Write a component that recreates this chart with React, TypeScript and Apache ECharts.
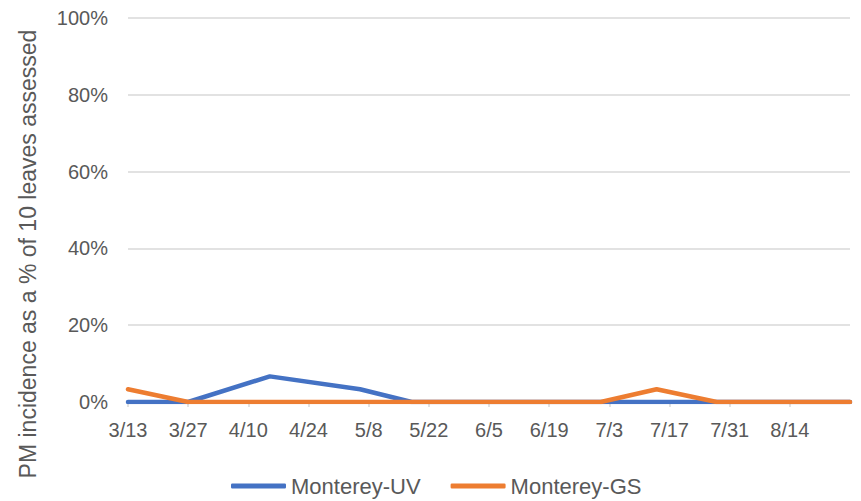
import React, { useEffect, useRef } from "react";
import * as echarts from "echarts";

const YEAR = 2021;
const startDate = "3/13";
const endDate = "8/28";
const sampleDates = ["3/13", "3/27", "4/15", "5/6", "5/18", "6/3", "6/17", "7/1", "7/14", "7/28", "8/12", "8/28"];
const uvValues = [0, 0, 6.67, 3.33, 0, 0, 0, 0, 0, 0, 0, 0];
const gsValues = [3.33, 0, 0, 0, 0, 0, 0, 0, 3.33, 0, 0, 0];
const seriesNames = ["Monterey-UV", "Monterey-GS"];
const seriesColors = ["#4472C4", "#ED7D31"];
const yTicks = [0, 20, 40, 60, 80, 100];
const yAxisTitle = "PM incidence as a % of 10 leaves assessed";

const DAY = 86400000;
function toTime(md: string) {
  const [m, d] = md.split("/").map(Number);
  return Date.UTC(YEAR, m - 1, d);
}
const t0 = toTime(startDate);
const span = Math.round((toTime(endDate) - t0) / DAY);
function offset(md: string) {
  return Math.round((toTime(md) - t0) / DAY);
}
function fmt(v: number) {
  const dt = new Date(t0 + v * DAY);
  return `${dt.getUTCMonth() + 1}/${dt.getUTCDate()}`;
}

const FONT = "'Liberation Sans', Arial, sans-serif";
const TEXT = "#595959";

export default function App() {
  const ref = useRef<HTMLDivElement>(null);
  useEffect(() => {
    if (!ref.current) return;
    const chart = echarts.init(ref.current, undefined, { renderer: "svg" });
    const mk = (vals: number[], i: number) => ({
      name: seriesNames[i],
      type: "line",
      data: sampleDates.map((d, k) => [offset(d), vals[k]]),
      symbol: "none",
      lineStyle: { color: seriesColors[i], width: 4.5, cap: "round", join: "round" },
      itemStyle: { color: seriesColors[i] },
      z: 2 + i,
    });
    chart.setOption({
      animation: false,
      textStyle: { fontFamily: FONT },
      grid: { left: 128, right: 11, top: 18, bottom: 99, containLabel: false, outerBoundsMode: "none" },
      legend: {
        data: seriesNames.map((n) => ({ name: n, icon: "roundRect" })),
        left: 226,
        top: 470,
        itemWidth: 55,
        itemHeight: 5,
        itemGap: 30,
        textStyle: { color: TEXT, fontSize: 22, fontFamily: FONT },
      },
      graphic: [
        {
          type: "text",
          x: 28,
          y: 254,
          rotation: Math.PI / 2,
          style: {
            text: yAxisTitle,
            fill: TEXT,
            fontSize: 23,
            fontFamily: FONT,
            align: "center",
            verticalAlign: "middle",
          },
        },
      ],
      xAxis: {
        type: "value",
        min: 0,
        max: span,
        interval: 14,
        axisLine: { show: true, lineStyle: { color: "#D9D9D9", width: 1.5 } },
        axisTick: { show: true, length: 5, lineStyle: { color: "#D9D9D9", width: 1.5 } },
        splitLine: { show: false },
        axisLabel: {
          formatter: (v: number) => fmt(v),
          showMaxLabel: false,
          color: TEXT,
          fontSize: 20,
          margin: 18,
          fontFamily: FONT,
        },
      },
      yAxis: {
        type: "value",
        min: yTicks[0],
        max: yTicks[yTicks.length - 1],
        interval: 20,
        axisLine: { show: false },
        axisTick: { show: false },
        splitLine: { lineStyle: { color: "#D9D9D9", width: 1.5 } },
        axisLabel: { formatter: (v: number) => `${v}%`, color: TEXT, fontSize: 20, margin: 20, fontFamily: FONT },
      },
      series: [mk(uvValues, 0), mk(gsValues, 1)],
    });
    return () => chart.dispose();
  }, []);
  return <div ref={ref} style={{ width: 861, height: 501, position: "absolute", left: 0, top: 0 }} />;
}
